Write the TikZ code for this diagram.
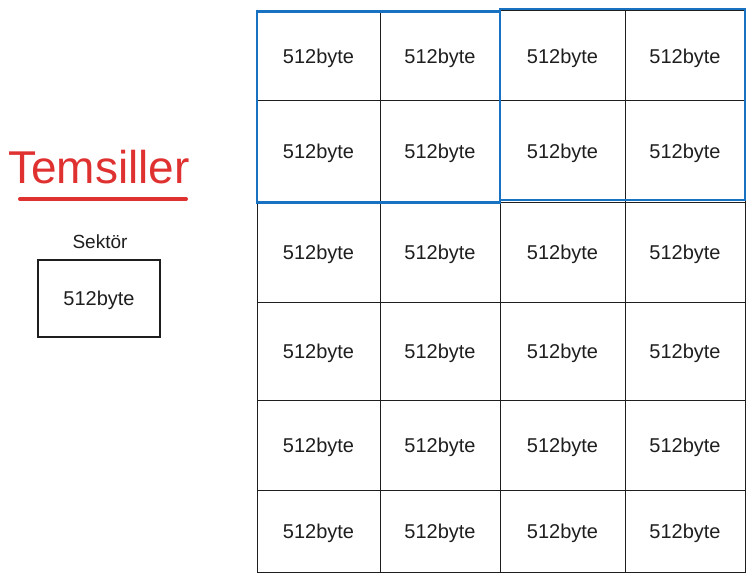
\documentclass[tikz,border=0pt]{standalone}
\usepackage{fontspec}
\setmainfont{Liberation Sans}
\definecolor{ink}{HTML}{1E1E1E}
\definecolor{exred}{HTML}{E03131}
\definecolor{exblue}{HTML}{1971C2}
\begin{document}
\begin{tikzpicture}[x=1pt,y=-1pt,
  cell/.style={draw=ink, line width=1pt, inner sep=0pt, text=ink, font=\fontsize{20}{24}\selectfont, text depth=-9pt},
  group/.style={draw=exblue, line width=2.4pt},
  title/.style={text=exred, font=\fontsize{46}{52}\selectfont, inner sep=0pt},
  label/.style={text=ink, font=\fontsize{19}{22}\selectfont, inner sep=0pt}]
\useasboundingbox (0,0) rectangle (754,583);
\def\xs{{257,380,500,625,745}}
\def\ys{{11,101,202,302,400,490,572}}
\foreach \c in {0,...,3}{
  \foreach \r in {0,...,5}{
    \pgfmathsetmacro{\xa}{\xs[\c]}
    \pgfmathsetmacro{\xb}{\xs[\c+1]}
    \pgfmathsetmacro{\ya}{\ys[\r]}
    \pgfmathsetmacro{\yb}{\ys[\r+1]}
    \node[cell, minimum width={\xb-\xa}, minimum height={\yb-\ya}] (c\r\c) at ({(\xa+\xb)/2},{(\ya+\yb)/2}) {512byte};
  }
}
\node[group, minimum width=243pt, minimum height=191pt, inner sep=0pt] (g1) at (378.5,107) {};
\node[group, minimum width=245pt, minimum height=191pt, inner sep=0pt] (g2) at (622.5,104.5) {};
\node[title, anchor=base west] (t) at (8,183) {Temsiller};
\draw[exred, line width=4pt, line cap=round] (t.base west) ++(12,16) coordinate (u1) -- ++(166,0) coordinate (u2);
\node[label] (sek) at (100,242) {Sektör};
\node[cell, minimum width=122pt, minimum height=77pt, line width=1.2pt] (leg) at (99,298.5) {512byte};
\end{tikzpicture}
\end{document}
